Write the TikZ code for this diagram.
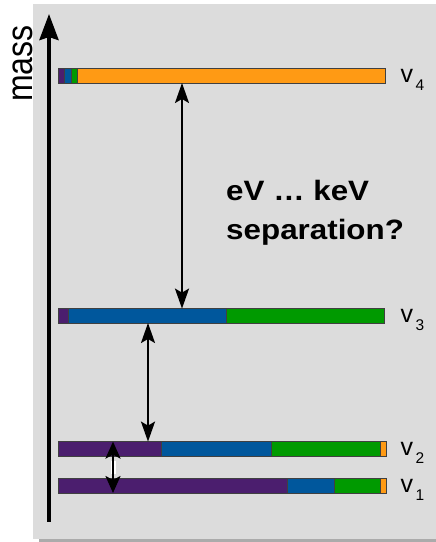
\documentclass[tikz,border=0pt]{standalone}
\usepackage{fontspec}
\setmainfont{Liberation Sans}
\usetikzlibrary{arrows.meta,calc}
\definecolor{bgc}{HTML}{DCDCDC}
\definecolor{shc}{HTML}{ABABAB}
\definecolor{nupurple}{HTML}{4B1E6E}
\definecolor{nublue}{HTML}{00579C}
\definecolor{nugreen}{HTML}{009A00}
\definecolor{nuorange}{HTML}{FF9A14}
\tikzset{
  barbox/.style={rectangle, inner sep=0pt, minimum height=14pt, anchor=south west},
  seg/.style={draw=black!75, line width=0.7pt},
  dblarrow/.style={line width=2pt, {Stealth[length=20pt,width=14pt,inset=4pt]}-{Stealth[length=20pt,width=14pt,inset=4pt]}},
  nulabel/.style={anchor=base west, inner sep=0pt, font=\fontsize{25}{25}\selectfont},
  sepfont/.style={anchor=base west, inner sep=0pt, xscale=1.12, font=\fontsize{28}{32}\selectfont\bfseries}
}
\newcommand{\nusub}[1]{v\hspace{2.5pt}\raisebox{-8pt}{\fontsize{15.5}{15.5}\selectfont #1}}
\begin{document}
\begin{tikzpicture}[x=1pt,y=1pt]
\useasboundingbox (0,0) rectangle (436,542);
% background panel and its shadow
\fill[shc] (39,0) rectangle (436,3);
\fill[bgc] (33,3) rectangle (436,538);

% mass axis
\coordinate (axb) at (49,20);
\coordinate (axt) at (49,528);
\draw[line width=4pt, -{Stealth[length=26pt,width=19pt,inset=3pt]}] (axb) -- (axt);
\node[rotate=90, anchor=base west, inner sep=0pt, font=\fontsize{32}{32}\selectfont] (mass) at (33,440) {\scalebox{1}[1.14]{mass}};

% bars
\node[barbox, minimum width=327pt] (b4) at (58,459) {};
\node[barbox, minimum width=326pt] (b3) at (58,219) {};
\node[barbox, minimum width=328pt] (b2) at (58,86) {};
\node[barbox, minimum width=328pt] (b1) at (58,49) {};

% v4 segments
\filldraw[seg, fill=nupurple] (b4.south west) rectangle ($(b4.north west)+(6,0)$);
\filldraw[seg, fill=nublue] ($(b4.south west)+(6,0)$) rectangle ($(b4.north west)+(13,0)$);
\filldraw[seg, fill=nugreen] ($(b4.south west)+(13,0)$) rectangle ($(b4.north west)+(19,0)$);
\filldraw[seg, fill=nuorange] ($(b4.south west)+(19,0)$) rectangle (b4.north east);

% v3 segments
\filldraw[seg, fill=nupurple] (b3.south west) rectangle ($(b3.north west)+(10,0)$);
\filldraw[seg, fill=nublue] ($(b3.south west)+(10,0)$) rectangle ($(b3.north west)+(168,0)$);
\filldraw[seg, fill=nugreen] ($(b3.south west)+(168,0)$) rectangle (b3.north east);

% v2 segments
\filldraw[seg, fill=nupurple] (b2.south west) rectangle ($(b2.north west)+(103,0)$);
\filldraw[seg, fill=nublue] ($(b2.south west)+(103,0)$) rectangle ($(b2.north west)+(213,0)$);
\filldraw[seg, fill=nugreen] ($(b2.south west)+(213,0)$) rectangle ($(b2.north west)+(322,0)$);
\filldraw[seg, fill=nuorange] ($(b2.south west)+(322,0)$) rectangle (b2.north east);

% v1 segments
\filldraw[seg, fill=nupurple] (b1.south west) rectangle ($(b1.north west)+(229,0)$);
\filldraw[seg, fill=nublue] ($(b1.south west)+(229,0)$) rectangle ($(b1.north west)+(276,0)$);
\filldraw[seg, fill=nugreen] ($(b1.south west)+(276,0)$) rectangle ($(b1.north west)+(322,0)$);
\filldraw[seg, fill=nuorange] ($(b1.south west)+(322,0)$) rectangle (b1.north east);

% labels
\node[nulabel] (l4) at ($(b4.south east)+(15,0)$) {\nusub{4}};
\node[nulabel] (l3) at ($(b3.south east)+(16,0)$) {\nusub{3}};
\node[nulabel] (l2) at ($(b2.south east)+(14,0)$) {\nusub{2}};
\node[nulabel] (l1) at ($(b1.south east)+(14,0)$) {\nusub{1}};

% separation arrows
\draw[dblarrow] ($(b4.south west)+(124,0)$) -- ($(b3.north west)+(124,0)$);
\draw[dblarrow] ($(b3.south west)+(90,0)$) -- ($(b2.north west)+(90,0)$);
\draw[white, line width=5pt] ($(b2.south west)+(55,-5)$) -- ($(b1.north west)+(55,5)$);
\draw[line width=2.5pt, {Stealth[length=17pt,width=15pt,inset=4pt]}-{Stealth[length=17pt,width=15pt,inset=4pt]}] ($(b2.north west)+(55,0)$) -- ($(b1.south west)+(55,0)$);

% question text
\node[sepfont] (sep1) at (226,341.3) {eV … keV};
\node[sepfont] (sep2) at (226,302) {separation?};
\end{tikzpicture}
\end{document}
